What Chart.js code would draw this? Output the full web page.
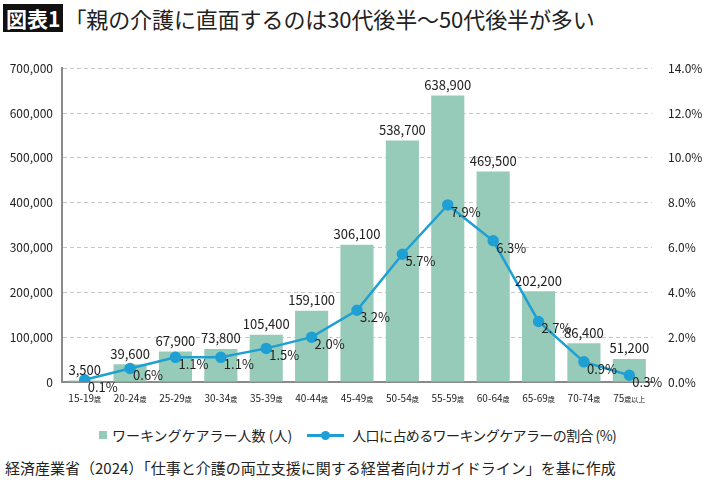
<!DOCTYPE html>
<html lang="ja">
<head>
<meta charset="utf-8">
<script src="https://cdn.jsdelivr.net/npm/chart.js@4.4.1/dist/chart.umd.min.js"></script>
<style>
  body { margin: 0; background: #fff; font-family: "Noto Sans CJK JP", "Noto Sans", sans-serif; color: #222; }
  #page { position: relative; width: 710px; height: 487px; overflow: hidden; }
  #title { position: absolute; left: 3px; top: 4px; height: 28px; display: flex; align-items: center; white-space: nowrap; }
  #title .tag { background: #111; color: #fff; font-size: 21px; font-weight: 700; height: 28px; line-height: 28px; padding: 0 3px 0 3px; }
  #title .main { font-size: 22px; font-weight: 400; margin-left: 1px; letter-spacing: -0.1px; }
  #chartWrap { position: absolute; left: 0; top: 45px; }
  #legend { position: absolute; top: 425px; left: 99px; display: flex; align-items: center; font-size: 14px; white-space: nowrap; }
  #legend .box { width: 8px; height: 8px; background: #97cbb9; margin-right: 5px; }
  #legend .ln { position: relative; width: 37px; height: 3px; background: #1fa0d4; margin: 0 8px 0 15px; }
  #legend .ln::after { content: ""; position: absolute; left: 14px; top: -3px; width: 9px; height: 9px; border-radius: 50%; background: #1fa0d4; }
  #legend .t2 { letter-spacing: -0.6px; }
  #source { position: absolute; left: 5px; top: 457px; font-size: 15px; white-space: nowrap; }
</style>
</head>
<body>
<div id="page">
  <div id="title"><span class="tag">図表1</span><span class="main">「親の介護に直面するのは30代後半〜50代後半が多い</span></div>
  <div id="chartWrap"><canvas id="myChart" width="710" height="370"></canvas></div>
  <div id="legend">
    <span class="box"></span><span>ワーキングケアラー人数 (人)</span>
    <span class="ln"></span><span class="t2">人口に占めるワーキングケアラーの割合 (%)</span>
  </div>
  <div id="source">経済産業省（2024）「仕事と介護の両立支援に関する経営者向けガイドライン」を基に作成</div>
</div>
<script>
const ageGroups = ['15-19歳', '20-24歳', '25-29歳', '30-34歳', '35-39歳', '40-44歳', '45-49歳',
  '50-54歳', '55-59歳', '60-64歳', '65-69歳', '70-74歳', '75歳以上'];
const carerCounts = [3500, 39600, 67900, 73800, 105400, 159100, 306100, 538700, 638900, 469500, 202200, 86400, 51200];
const carerShare = [0.1, 0.6, 1.1, 1.1, 1.5, 2.0, 3.2, 5.7, 7.9, 6.3, 2.7, 0.9, 0.3];

const barColor = '#97cbb9';
const lineColor = '#1fa0d4';
const fontFamily = '"Noto Sans CJK JP", "Noto Sans", sans-serif';

// bar values above bars, percentages next to points, small 歳 in x labels
const labelPlugin = {
    id: 'labelPlugin',
    afterDatasetsDraw(chart) {
        const ctx = chart.ctx;
        ctx.save();
        ctx.fillStyle = '#222';
        ctx.font = '13px ' + fontFamily;
        ctx.textAlign = 'center';
        ctx.textBaseline = 'bottom';
        chart.getDatasetMeta(0).data.forEach((bar, i) => {
            ctx.fillText(carerCounts[i].toLocaleString('en-US'), bar.x, bar.y - 4);
        });
        ctx.textAlign = 'left';
        ctx.textBaseline = 'middle';
        chart.getDatasetMeta(1).data.forEach((pt, i) => {
            ctx.fillText(carerShare[i].toFixed(1) + '%', pt.x + 3, pt.y + 7);
        });

        const xScale = chart.scales.x;
        const y = chart.chartArea.bottom + 16;
        ageGroups.forEach((label, i) => {
            const cut = label.search(/[^\x00-\x7F]/);
            const head = label.slice(0, cut);
            const tail = label.slice(cut);
            ctx.font = '10px ' + fontFamily;
            const w1 = ctx.measureText(head).width;
            ctx.font = '7px ' + fontFamily;
            const w2 = ctx.measureText(tail).width;
            const x0 = xScale.getPixelForTick(i) - (w1 + w2) / 2;
            ctx.textBaseline = 'alphabetic';
            ctx.font = '10px ' + fontFamily;
            ctx.fillText(head, x0, y + 4);
            ctx.font = '7px ' + fontFamily;
            ctx.fillText(tail, x0 + w1, y + 4);
        });
        ctx.restore();
    }
};

const chartCtx = document.getElementById('myChart').getContext('2d');
new Chart(chartCtx, {
    data: {
        labels: ageGroups,
        datasets: [{
            type: 'bar',
            label: 'ワーキングケアラー人数 (人)',
            data: carerCounts,
            backgroundColor: barColor,
            yAxisID: 'y',
            barPercentage: 0.73,
            categoryPercentage: 1.0,
            order: 2
        }, {
            type: 'line',
            label: '人口に占めるワーキングケアラーの割合 (%)',
            data: carerShare,
            borderColor: lineColor,
            backgroundColor: lineColor,
            borderWidth: 2.5,
            pointRadius: 4.5,
            pointHoverRadius: 4.5,
            tension: 0,
            yAxisID: 'y1',
            order: 1
        }]
    },
    options: {
        responsive: false,
        animation: false,
        layout: { padding: { left: 0, right: 0, top: 17, bottom: 5 } },
        plugins: {
            legend: { display: false },
            tooltip: { enabled: false }
        },
        scales: {
            x: {
                grid: { display: false },
                border: { display: true, color: '#8a8a8a', width: 2 },
                ticks: { display: false },
                afterFit: scale => { scale.height = 28; }
            },
            y: {
                position: 'left',
                min: 0,
                max: 700000,
                ticks: {
                    stepSize: 100000,
                    padding: 9,
                    color: '#222',
                    font: { family: fontFamily, size: 12 },
                    callback: v => v.toLocaleString('en-US')
                },
                grid: { color: '#c8c8c8', lineWidth: 1, drawTicks: false },
                border: { display: true, color: '#8a8a8a', width: 2, dash: [4, 3] },
                afterFit: scale => { scale.width = 62; }
            },
            y1: {
                position: 'right',
                min: 0,
                max: 14,
                ticks: {
                    stepSize: 2,
                    padding: 16,
                    color: '#222',
                    font: { family: fontFamily, size: 12 },
                    callback: v => v.toFixed(1) + '%'
                },
                grid: { display: false, drawTicks: false },
                border: { display: false },
                afterFit: scale => { scale.width = 58; }
            }
        }
    },
    plugins: [labelPlugin]
});
</script>
</body>
</html>
